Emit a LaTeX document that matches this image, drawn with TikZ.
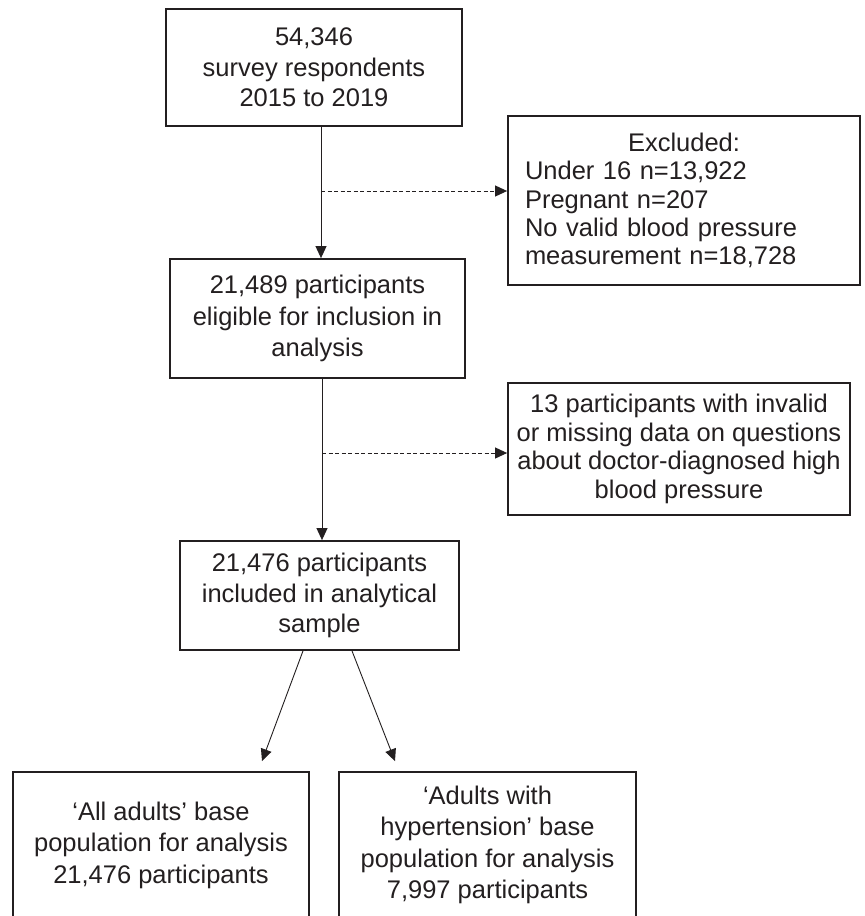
\documentclass[tikz,border=0pt]{standalone}
\usepackage{fontspec}
\setmainfont{Liberation Sans}
\usepackage{tikz}
\usetikzlibrary{arrows.meta}
\definecolor{ink}{RGB}{35,31,32}

\begin{document}
\begin{tikzpicture}[x=1pt, y=-1pt,
  box/.style={draw=ink, text=ink, line width=1.8pt, inner sep=0pt, align=center,
    font=\fontsize{25.5}{30.5}\selectfont},
  arr/.style={draw=ink, line width=0.9pt, -{Triangle[length=12pt,width=11pt]}},
  dsh/.style={arr, dash pattern=on 4pt off 2.5pt}]
\path[fill=white, use as bounding box] (0,0) rectangle (865,916);
\node[box, minimum width=296pt, minimum height=117pt] (resp) at (314,67.5) {54,346\\survey respondents\\2015 to 2019};
\node[box, minimum width=352pt, minimum height=169pt, text width=318pt, align=left,
  font=\fontsize{25.5}{28.4}\selectfont] (excl) at (684,200.5)
  {\makebox[\linewidth]{Excluded:}\\Under 16 n=13,922\\Pregnant n=207\\No valid blood pressure\\measurement n=18,728};
\node[box, minimum width=295pt, minimum height=119pt, font=\fontsize{25.5}{31.5}\selectfont] (elig) at (317.5,318.5) {21,489 participants\\eligible for inclusion in\\analysis};
\node[box, minimum width=342pt, minimum height=132pt, font=\fontsize{25.5}{28.5}\selectfont] (miss) at (679,449) {13 participants with invalid\\or missing data on questions\\about doctor-diagnosed high\\blood pressure};
\node[box, minimum width=279pt, minimum height=109pt] (incl) at (319.5,595.5) {21,476 participants\\included in analytical\\sample};
\node[box, minimum width=296pt, minimum height=146pt, font=\fontsize{25.5}{31.5}\selectfont] (allad) at (161,845) {`All adults' base\\population for analysis\\21,476 participants};
\node[box, minimum width=297pt, minimum height=146pt, font=\fontsize{25.5}{31.5}\selectfont] (hyper) at (487.5,845) {`Adults with\\hypertension' base\\population for analysis\\7,997 participants};
\coordinate (j1) at (321,191);
\coordinate (j2) at (322,453);
\draw[arr] (resp.south -| j1) -- (elig.north -| j1);
\draw[dsh] (j1) -- (excl.west |- j1);
\draw[arr] (elig.south -| j2) -- (incl.north -| j2);
\draw[dsh] (j2) -- (miss.west |- j2);
\draw[arr] ([xshift=-16.5pt]incl.south) -- ([xshift=101pt, yshift=10pt]allad.north);
\draw[arr] ([xshift=32.5pt]incl.south) -- ([xshift=-92.5pt, yshift=10pt]hyper.north);
\end{tikzpicture}
\end{document}
